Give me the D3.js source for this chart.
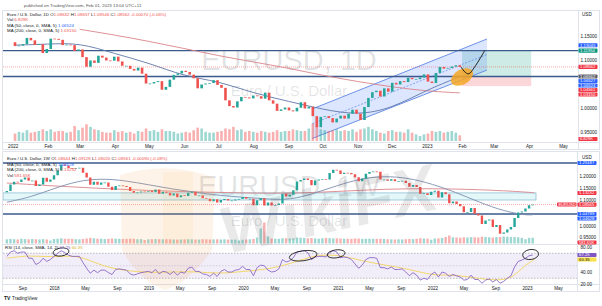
<!DOCTYPE html>
<html>
<head>
<meta charset="utf-8">
<script src="https://cdn.jsdelivr.net/npm/d3@7/dist/d3.min.js"></script>
<style>
  body { margin: 0; background: #fff; }
  svg { display: block; font-family: "Liberation Sans", Arial, sans-serif; }
</style>
</head>
<body>
<div id="chart"></div>
<script>
// ---------- daily chart (top) ----------
// one candle per 3.5 days starting at topStart
const topStart = "2022-01-03";
const topFirstOpen = 1.1370;
const topCloses = [
  1.1290,1.1300,1.1330,1.1460,1.1410,1.1315,1.1330,1.1145,1.1230,
  1.1445,1.1440,1.1420,1.1310,1.1320,1.1310,1.1190,1.1220,
  1.1060,1.0860,1.0990,1.0940,1.1090,1.1050,1.0990,1.0985,1.1070,
  1.0970,1.0880,1.0880,1.0815,1.0780,1.0840,1.0715,1.0510,
  1.0510,1.0540,1.0560,1.0380,1.0440,1.0590,1.0690,1.0720,
  1.0775,1.0750,1.0695,1.0620,1.0410,1.0490,1.0510,1.0520,1.0580,1.0480,
  1.0420,1.0160,1.0040,1.0010,1.0140,1.0230,1.0220,1.0200,
  1.0260,1.0245,1.0195,1.0320,1.0160,1.0090,0.9940,0.9970,1.0010,
  0.9950,0.9930,1.0005,1.0120,0.9990,1.0025,0.9830,0.9600,0.9815,
  0.9830,0.9790,0.9700,0.9780,0.9840,0.9780,0.9880,0.9965,0.9880,
  0.9750,1.0020,1.0210,1.0330,1.0360,1.0240,1.0410,1.0340,
  1.0525,1.0490,1.0560,1.0540,1.0630,1.0600,1.0600,1.0635,1.0700,
  1.0550,1.0520,1.0730,1.0855,1.0820,1.0835,1.0865,1.0890,1.0856
];
const topVolumes = [
  9,11,10,13,10,11,12,14,12,
  14,11,12,12,10,11,18,13,
  16,20,17,14,13,11,10,10,13,
  11,12,10,11,9,12,11,15,
  12,13,11,14,12,12,11,9,
  10,11,10,13,16,15,11,10,10,11,
  12,15,14,17,13,14,11,12,
  11,10,12,11,10,11,13,11,12,
  12,14,13,12,12,15,21,18,14,
  13,12,13,14,12,13,12,14,11,
  14,15,17,14,12,10,9,12,
  13,11,11,10,14,10,8,6,8,
  9,12,11,12,10,11,12,10,6.829
];
const topMa50Dates = ["2022-01-03","2022-02-01","2022-03-01","2022-04-01","2022-05-01","2022-06-01","2022-07-01",
  "2022-08-01","2022-09-01","2022-10-01","2022-11-01","2022-12-01","2023-01-01","2023-01-30"];
const topMa50 = [1.131,1.133,1.136,1.113,1.094,1.066,1.056,1.031,1.014,0.997,0.985,0.999,1.038,1.065];
const topMa200Dates = ["2022-03-01","2022-04-01","2022-05-01","2022-06-01","2022-07-01","2022-08-01",
  "2022-09-01","2022-10-01","2022-11-01","2022-12-01","2023-01-01","2023-01-30"];
const topMa200 = [1.164,1.152,1.139,1.124,1.109,1.096,1.083,1.068,1.055,1.044,1.035,1.0315];

const topLevels = [1.1195, 1.0656];
const channelDates = ["2022-09-22", "2023-02-23"];
const channelUpper = [0.9980, 1.1438];
const channelLower = [0.9365, 1.0790];
const positionDates = ["2023-02-01", "2023-04-03"];
const positionTarget = 1.1195, positionEntry = 1.0656, positionStop = 1.0456;
const markerDate = "2023-02-01", markerPrice = 1.0646;
const projDates = ["2023-01-31","2023-02-04","2023-02-07","2023-02-12","2023-02-21"];
const projPrices = [1.0856,1.0740,1.0712,1.0850,1.1195];
const topTicks = [0.95, 1.0, 1.10, 1.15];
const topTags = [
  [1.1306, "1.13045", "#2962ff"],
  [1.1195, "1.11954", "#089981"],
  [1.0856, "1.08562", "#f23645"],
  [1.0656, "1.06562", "#5d606b"],
  [1.0653, "1.06527", "#2962ff"],
  [1.0652, "1.06524", "#2962ff"],
  [1.0456, "1.04561", "#f23645"],
  [1.0315, "1.03150", "#f23645"]
];

// ---------- weekly chart (bottom) ----------
// one candle per 14 days starting at botStart
const botStart = "2017-07-03";
const botFirstOpen = 1.1350;
const botCloses = [
  1.1400,1.1660,1.1770,1.1760,1.1860,1.1940,1.1810,1.1820,1.1600,1.1660,1.1930,1.1770,1.1860,
  1.2030,1.2220,1.2460,1.2410,1.2320,1.2290,1.2320,1.2330,1.2130,1.1940,1.1650,1.1770,1.1650,
  1.1740,1.1740,1.1570,1.1440,1.1600,1.1620,1.1600,1.1560,1.1400,1.1330,1.1340,1.1380,1.1370,
  1.1400,1.1360,1.1460,1.1290,1.1370,1.1330,1.1220,1.1300,1.1150,1.1230,1.1200,1.1330,1.1370,
  1.1220,1.1220,1.1110,1.1090,1.0990,1.1070,1.0940,1.1040,1.1080,1.1020,1.1020,1.1060,1.1080,
  1.1160,1.1090,1.1090,1.0830,1.1030,1.1110,1.0820,1.0940,1.0820,1.0840,1.0900,1.1290,1.1180,
  1.1250,1.1430,1.1780,1.1840,1.1900,1.1840,1.1630,1.1820,1.1860,1.1870,1.1860,1.2120,1.2250,
  1.2220,1.2080,1.2130,1.2120,1.2070,1.1950,1.1790,1.1900,1.2090,1.2160,1.2180,1.2170,1.1860,
  1.1860,1.1810,1.1870,1.1790,1.1800,1.1810,1.1720,1.1570,1.1640,1.1560,1.1290,1.1310,1.1240,1.1370,
  1.1410,1.1140,1.1350,1.1270,1.0910,1.0980,1.0880,1.0790,1.0550,1.0560,1.0720,1.0490,1.0420,
  1.0080,1.0220,1.0260,0.9960,1.0040,0.9690,0.9740,0.9860,0.9960,1.0320,1.0540,1.0580,1.0700,
  1.0830,1.0856
];
const botVolumes = [
  420,450,430,400,470,440,420,450,430,410,440,400,300,
  450,480,520,470,480,460,430,420,450,500,560,520,480,470,440,460,500,480,470,450,460,480,470,430,440,350,
  420,430,440,430,420,430,420,400,390,400,410,430,420,400,390,430,420,400,410,420,400,420,390,380,390,300,
  380,400,420,450,600,1500,2100,700,500,480,470,520,530,500,520,600,580,560,520,550,500,480,520,560,540,500,
  520,500,480,470,460,500,490,460,470,480,470,460,470,450,430,420,400,420,410,430,450,440,470,520,500,480,380,
  500,520,560,650,800,620,600,580,620,600,640,620,600,680,650,620,600,640,650,700,680,640,650,620,560,420,
  560,581.65
];
const botRsi = [
  65,72,74,70,72,72,62,62,52,55,62,57,60,
  65,70,74,71,67,65,65,65,55,46,38,43,39,43,43,39,36,44,45,44,43,37,35,37,39,40,
  41,39,44,37,41,40,36,41,35,40,38,46,48,41,41,37,36,33,38,33,41,44,40,40,43,44,
  49,44,44,34,47,51,50,43,40,41,45,60,56,58,63,72,73,74,71,60,64,65,65,64,71,74,
  72,63,64,63,60,53,46,51,60,63,63,62,47,47,45,48,44,44,45,40,34,39,35,27,30,28,36,
  40,32,40,38,33,36,34,32,27,28,35,28,28,22,27,29,24,28,22,25,30,34,48,57,59,62,
  66,67.25
];
const botMaDates = ["2017-07-03","2017-10-01","2018-01-01","2018-04-01","2018-07-01","2018-10-01","2019-01-01",
  "2019-04-01","2019-07-01","2019-10-01","2020-01-01","2020-04-01","2020-07-01","2020-10-01","2021-01-01",
  "2021-04-01","2021-07-01","2021-10-01","2022-01-01","2022-04-01","2022-07-01","2022-10-01","2023-01-01","2023-01-30"];
const botMa50 = [1.095,1.115,1.150,1.180,1.190,1.182,1.165,1.148,1.135,1.122,1.115,1.108,1.104,1.130,1.163,
  1.190,1.200,1.192,1.168,1.135,1.095,1.060,1.042,1.0463];
const botMa200Dates = ["2017-07-03","2018-01-01","2018-07-01","2019-01-01","2019-07-01","2020-01-01","2020-07-01",
  "2021-01-01","2021-07-01","2022-01-01","2022-07-01","2023-01-01","2023-01-30"];
const botMa200 = [1.172,1.160,1.150,1.142,1.136,1.132,1.130,1.138,1.148,1.150,1.146,1.136,1.1323];
const rsiMaDates = ["2017-07-03","2017-10-01","2018-01-01","2018-04-01","2018-07-01","2018-10-01","2019-01-01",
  "2019-04-01","2019-07-01","2019-10-01","2020-01-01","2020-04-01","2020-07-01","2020-10-01","2021-01-01",
  "2021-04-01","2021-07-01","2021-10-01","2022-01-01","2022-04-01","2022-07-01","2022-10-01","2022-11-15",
  "2022-12-15","2023-01-30"];
const rsiMa = [62,67,63,68,50,42,39,40,41,37,41,44,53,67,68,58,51,45,34,36,29,26,34,48,60.35];
const botLevels = [1.2520, 1.0480];
const botBand = [1.1040, 1.1323];
const botTicks = [0.95, 1.0, 1.10, 1.15, 1.20];
const rsiTicks = [20, 40, 80];
const rsiCircleDates = ["2018-01-28","2020-08-20","2020-12-25","2023-01-15"];
const rsiCircleValues = [72, 66, 69, 68];
const botTags = [
  [1.2520, "1.25187", "#2962ff"],
  [1.1323, "1.13232", "#f23645"],
  [1.0856, "1.08565", "#f23645"],
  [1.0480, "1.04799", "#2962ff"],
  [1.0463, "1.04628", "#2962ff"]
];
const rsiTags = [[67.25, "67.25", "#7e57c2", "#fff"], [60.35, "60.35", "#f7e04a", "#131722"]];

// ---------- setup ----------
const parse = d3.utcParse("%Y-%m-%d");
const UP = "#26a69a", DOWN = "#ef5350", TXT = "#131722";
const svg = d3.select("#chart").append("svg").attr("width", 602).attr("height", 306);
const defs = svg.append("defs");
function clip(id, x, y, w, h) {
  defs.append("clipPath").attr("id", id).append("rect").attr("x", x).attr("y", y).attr("width", w).attr("height", h);
}
clip("cTop", 3, 10.5, 575, 131.5);
clip("cBot", 3, 151.5, 574, 92.5);
clip("cRsi", 3, 244.5, 574, 39.5);

function candles(start, stepH, firstOpen, closes, vols) {
  const t0 = parse(start);
  return closes.map((c, i) => ({
    date: d3.utcHour.offset(t0, i * stepH),
    open: i ? closes[i - 1] : firstOpen,
    close: c,
    vol: vols[i]
  }));
}
function legendRow(x, y, parts) {
  const t = svg.append("text").attr("x", x).attr("y", y).attr("font-size", 4.4).attr("dy", "0.35em");
  parts.forEach(([s, c]) => t.append("tspan").attr("fill", c).text(s));
}
// price tags on the axis, pushed down when they would overlap
function tags(list, yScale, h, x) {
  const items = list.map(d => ({ y: yScale(d[0]), text: d[1], bg: d[2], fg: d[3] || "#fff" }))
    .sort((a, b) => a.y - b.y);
  let prev = -1e9;
  items.forEach(d => { d.y = Math.max(d.y, prev + h); prev = d.y; });
  items.forEach(d => {
    svg.append("rect").attr("x", x).attr("y", d.y - h / 2 + 0.2).attr("width", 19).attr("height", h - 0.4)
      .attr("rx", 0.8).attr("fill", d.bg);
    svg.append("text").attr("x", x + 1.6).attr("y", d.y).attr("dy", "0.35em").attr("font-size", 4.2)
      .attr("fill", d.fg).text(d.text);
  });
  return items.map(d => d.y);
}
function tag1(x, y, w, text, bg) {
  svg.append("rect").attr("x", x).attr("y", y - 2).attr("width", w).attr("height", 4).attr("rx", 0.8).attr("fill", bg);
  svg.append("text").attr("x", x + 1.4).attr("y", y).attr("dy", "0.35em").attr("font-size", 4.1).attr("fill", "#fff").text(text);
}
function axisStyle(g) {
  g.select(".domain").remove();
  g.attr("font-size", 4.6).attr("font-family", null);
  g.selectAll("text").attr("fill", TXT);
}
// lift a tick label that sits just above a tag so both stay readable
function lift(axisG, yScale, tagYs) {
  axisG.selectAll(".tick").each(function (v) {
    const ty = yScale(v);
    tagYs.forEach(y => {
      if (ty <= y && y - ty < 5) d3.select(this).select("text").attr("y", (y - 5) - ty);
    });
  });
}

// ---------- frames ----------
svg.append("text").attr("x", 24).attr("y", 5).attr("dy", "0.35em").attr("font-size", 4.4).attr("fill", "#555")
  .text("published on TradingView.com, Feb 01, 2023 13:04 UTC+11");
svg.append("rect").attr("x", 2.5).attr("y", 10.5).attr("width", 597).attr("height", 139).attr("fill", "none").attr("stroke", "#e0e3eb");
svg.append("line").attr("x1", 578.5).attr("x2", 578.5).attr("y1", 10.5).attr("y2", 149.5).attr("stroke", "#e0e3eb");
svg.append("line").attr("x1", 2.5).attr("x2", 599.5).attr("y1", 142.5).attr("y2", 142.5).attr("stroke", "#e0e3eb");
svg.append("rect").attr("x", 2.5).attr("y", 151.5).attr("width", 597).attr("height", 140).attr("fill", "none").attr("stroke", "#e0e3eb");
svg.append("line").attr("x1", 577.5).attr("x2", 577.5).attr("y1", 151.5).attr("y2", 291.5).attr("stroke", "#e0e3eb");
svg.append("line").attr("x1", 2.5).attr("x2", 599.5).attr("y1", 244.5).attr("y2", 244.5).attr("stroke", "#e0e3eb");
svg.append("line").attr("x1", 2.5).attr("x2", 599.5).attr("y1", 284.5).attr("y2", 284.5).attr("stroke", "#e0e3eb");

// ---------- top chart ----------
const xTop = d3.scaleUtc().domain([parse("2022-01-03"), parse("2023-05-01")]).range([15, 563]);
const yTop = d3.scaleLinear().domain([0.95, 1.15]).range([132, 36]);
const vTop = d3.scaleLinear().domain([0, 24]).range([141, 121]);
const topData = candles(topStart, 84, topFirstOpen, topCloses, topVolumes);
const gT = svg.append("g").attr("clip-path", "url(#cTop)");

gT.append("text").attr("x", 289).attr("y", 70).attr("text-anchor", "middle").attr("font-size", 29)
  .attr("fill", "#131722").attr("fill-opacity", 0.13).text("EURUSD, 1D");
gT.append("text").attr("x", 289).attr("y", 96).attr("text-anchor", "middle").attr("font-size", 15)
  .attr("fill", "#131722").attr("fill-opacity", 0.13).text("Euro / U.S. Dollar");

// position tool
const px0 = xTop(parse(positionDates[0])), px1 = xTop(parse(positionDates[1]));
gT.append("rect").attr("x", px0).attr("width", px1 - px0).attr("y", yTop(positionTarget))
  .attr("height", yTop(positionEntry) - yTop(positionTarget)).attr("fill", "#089981").attr("fill-opacity", 0.2);
gT.append("rect").attr("x", px0).attr("width", px1 - px0).attr("y", yTop(positionEntry))
  .attr("height", yTop(positionStop) - yTop(positionEntry)).attr("fill", "#f23645").attr("fill-opacity", 0.2);

// channel
const cd = channelDates.map(parse);
const chPts = [[cd[0], channelUpper[0]], [cd[1], channelUpper[1]], [cd[1], channelLower[1]], [cd[0], channelLower[0]]];
gT.append("path").attr("d", "M" + chPts.map(p => [xTop(p[0]), yTop(p[1])].join(",")).join("L") + "Z")
  .attr("fill", "#2962ff").attr("fill-opacity", 0.16);
[channelUpper, channelLower].forEach(v => gT.append("line")
  .attr("x1", xTop(cd[0])).attr("x2", xTop(cd[1])).attr("y1", yTop(v[0])).attr("y2", yTop(v[1]))
  .attr("stroke", "#5b86e5").attr("stroke-width", 0.9));
gT.append("line").attr("x1", xTop(cd[0])).attr("x2", xTop(cd[1]))
  .attr("y1", yTop((channelUpper[0] + channelLower[0]) / 2)).attr("y2", yTop((channelUpper[1] + channelLower[1]) / 2))
  .attr("stroke", "#5b86e5").attr("stroke-width", 0.7).attr("stroke-dasharray", "2,1.5");

// volume
const bwT = 2.6;
gT.selectAll(".vt").data(topData).join("rect")
  .attr("x", d => xTop(d.date) - bwT / 2).attr("width", bwT)
  .attr("y", d => vTop(d.vol)).attr("height", d => vTop(0) - vTop(d.vol))
  .attr("fill", d => d.close >= d.open ? UP : DOWN).attr("fill-opacity", 0.45);

// levels
topLevels.forEach(p => gT.append("line").attr("x1", 3).attr("x2", 578).attr("y1", yTop(p)).attr("y2", yTop(p))
  .attr("stroke", "#3a5a8c").attr("stroke-width", 1.3));
gT.append("line").attr("x1", 3).attr("x2", 578).attr("y1", yTop(topCloses[topCloses.length - 1]))
  .attr("y2", yTop(topCloses[topCloses.length - 1])).attr("stroke", DOWN).attr("stroke-width", 0.5).attr("stroke-dasharray", "1,1");

// moving averages
const lineT = d3.line().curve(d3.curveBasis).x(d => xTop(d[0])).y(d => yTop(d[1]));
gT.append("path").attr("d", lineT(topMa200Dates.map((d, i) => [parse(d), topMa200[i]])))
  .attr("fill", "none").attr("stroke", "#d9858a").attr("stroke-width", 0.9);
gT.append("path").attr("d", lineT(topMa50Dates.map((d, i) => [parse(d), topMa50[i]])))
  .attr("fill", "none").attr("stroke", "#5f77a8").attr("stroke-width", 0.9);

// candles
gT.selectAll(".ct").data(topData).join("rect")
  .attr("x", d => xTop(d.date) - bwT / 2).attr("width", bwT)
  .attr("y", d => yTop(Math.max(d.open, d.close)))
  .attr("height", d => Math.max(0.7, Math.abs(yTop(d.open) - yTop(d.close))))
  .attr("fill", d => d.close >= d.open ? UP : DOWN);

// annotation: marker and projection
gT.append("ellipse").attr("transform", `translate(${xTop(parse(markerDate))},${yTop(markerPrice)}) rotate(-30)`)
  .attr("rx", 12).attr("ry", 7.5).attr("fill", "#f5a623").attr("fill-opacity", 0.85);
gT.append("path").attr("d", d3.line().curve(d3.curveCatmullRom).x(d => xTop(d[0])).y(d => yTop(d[1]))(
  projDates.map((d, i) => [parse(d), projPrices[i]]))).attr("fill", "none").attr("stroke", "#111").attr("stroke-width", 0.9);

// axes
svg.append("g").attr("transform", "translate(0,142.5)")
  .call(d3.axisBottom(xTop).tickValues(d3.utcMonth.range(parse("2022-01-01"), parse("2023-05-02")))
    .tickFormat(d => d.getUTCMonth() === 0 ? d3.utcFormat("%Y")(d) : d3.utcFormat("%b")(d)).tickSize(0).tickPadding(2))
  .call(axisStyle);
const yAxT = svg.append("g").attr("transform", "translate(579,0)")
  .call(d3.axisRight(yTop).tickValues(topTicks).tickFormat(d3.format(".5f")).tickSize(0).tickPadding(1.5))
  .call(axisStyle);
svg.append("text").attr("x", 582).attr("y", 14).attr("dy", "0.35em").attr("font-size", 4.6).attr("fill", TXT).text("USD");
lift(yAxT, yTop, tags(topTags, yTop, 4.5, 578.5));
tag1(578.5, 139, 19, "6.829K", "#f23645");

legendRow(7, 14, [["Euro / U.S. Dollar, 1D", TXT], ["            O", TXT], ["1.08632", DOWN], [" H", TXT], ["1.08657", DOWN],
  [" L", TXT], ["1.08546", DOWN], [" C", TXT], ["1.08562", DOWN], [" -0.00070 (-0.06%)", DOWN]]);
legendRow(7, 19.5, [["Vol ", TXT], ["6.829K", DOWN]]);
legendRow(7, 25, [["MA (50, close, 0, SMA, 5) ", TXT], ["1.06524", "#2962ff"]]);
legendRow(7, 30.5, [["MA (200, close, 0, SMA, 5) ", TXT], ["1.03150", DOWN]]);

// ---------- bottom chart ----------
const xBot = d3.scaleUtc().domain([parse("2018-01-01"), parse("2023-01-01")]).range([54, 527]);
const yBot = d3.scaleLinear().domain([0.95, 1.20]).range([238.5, 176]);
const vBot = d3.scaleLinear().domain([0, 2400]).range([243.5, 219.5]);
const yRsi = d3.scaleLinear().domain([20, 80]).range([284.5, 247]);
const botData = candles(botStart, 336, botFirstOpen, botCloses, botVolumes);
const gB = svg.append("g").attr("clip-path", "url(#cBot)");

// watermarks
gB.append("text").attr("x", 289).attr("y", 196).attr("text-anchor", "middle").attr("font-size", 29)
  .attr("fill", "#131722").attr("fill-opacity", 0.13).text("EURUSD, 1W");
gB.append("text").attr("x", 289).attr("y", 226).attr("text-anchor", "middle").attr("font-size", 15)
  .attr("fill", "#131722").attr("fill-opacity", 0.13).text("Euro / U.S. Dollar");

gB.append("rect").attr("x", 163).attr("y", 172).attr("width", 30).attr("height", 72).attr("fill", "#f5b050").attr("fill-opacity", 0.08);
gB.append("rect").attr("x", 3).attr("y", yBot(botBand[1])).attr("width", 533).attr("height", yBot(botBand[0]) - yBot(botBand[1]))
  .attr("fill", "#b2ebf2").attr("fill-opacity", 0.35).attr("stroke", "#6fa9c6").attr("stroke-width", 0.6);

const bwB = 2.4;
gB.selectAll(".vb").data(botData).join("rect")
  .attr("x", d => xBot(d.date) - bwB / 2).attr("width", bwB)
  .attr("y", d => vBot(d.vol)).attr("height", d => vBot(0) - vBot(d.vol))
  .attr("fill", d => d.close >= d.open ? UP : DOWN).attr("fill-opacity", 0.45);

botLevels.forEach(p => gB.append("line").attr("x1", 3).attr("x2", 577).attr("y1", yBot(p)).attr("y2", yBot(p))
  .attr("stroke", "#3a5a8c").attr("stroke-width", 1.3));
gB.append("line").attr("x1", 3).attr("x2", 577).attr("y1", yBot(1.0856)).attr("y2", yBot(1.0856))
  .attr("stroke", DOWN).attr("stroke-width", 0.5).attr("stroke-dasharray", "1,1");

const lineB = d3.line().curve(d3.curveBasis).x(d => xBot(d[0])).y(d => yBot(d[1]));
gB.append("path").attr("d", lineB(botMa200Dates.map((d, i) => [parse(d), botMa200[i]])))
  .attr("fill", "none").attr("stroke", "#d9858a").attr("stroke-width", 0.9);
gB.append("path").attr("d", lineB(botMaDates.map((d, i) => [parse(d), botMa50[i]])))
  .attr("fill", "none").attr("stroke", "#7f8fb0").attr("stroke-width", 0.9);

gB.selectAll(".cb").data(botData).join("rect")
  .attr("x", d => xBot(d.date) - bwB / 2).attr("width", bwB)
  .attr("y", d => yBot(Math.max(d.open, d.close)))
  .attr("height", d => Math.max(0.7, Math.abs(yBot(d.open) - yBot(d.close))))
  .attr("fill", d => d.close >= d.open ? UP : DOWN);

// WikiFX watermark over the weekly chart
svg.append("path").attr("d", "M120,175 Q168,160 215,178 L212,250 Q190,282 165,290 Q138,280 122,250 Z")
  .attr("fill", "#f5a040").attr("fill-opacity", 0.12);
svg.append("text").attr("transform", "translate(330,232) rotate(-12) skewX(-8)").attr("text-anchor", "middle")
  .attr("font-size", 66).attr("font-weight", "bold").attr("fill", "#4a4a4a").attr("fill-opacity", 0.12).text("WikiFX");

// RSI pane
const gR = svg.append("g").attr("clip-path", "url(#cRsi)");
gR.append("rect").attr("x", 3).attr("width", 574).attr("y", yRsi(70)).attr("height", yRsi(30) - yRsi(70))
  .attr("fill", "#7e57c2").attr("fill-opacity", 0.1);
[70, 50, 30].forEach(v => gR.append("line").attr("x1", 3).attr("x2", 577).attr("y1", yRsi(v)).attr("y2", yRsi(v))
  .attr("stroke", "#787b86").attr("stroke-width", 0.5).attr("stroke-dasharray", "1.5,1.5").attr("stroke-opacity", v === 50 ? 0.5 : 1));
gR.append("path").attr("d", d3.line().curve(d3.curveBasis).x(d => xBot(d[0])).y(d => yRsi(d[1]))(
  rsiMaDates.map((d, i) => [parse(d), rsiMa[i]]))).attr("fill", "none").attr("stroke", "#f2d45c").attr("stroke-width", 0.9);
gR.append("path").attr("d", d3.line().x(d => xBot(d.date)).y((d, i) => yRsi(botRsi[i]))(botData))
  .attr("fill", "none").attr("stroke", "#7e57c2").attr("stroke-width", 0.8);
const circleR = [[8, 4], [14, 5], [9, 4], [8, 5]];
rsiCircleDates.forEach((d, i) => svg.append("ellipse")
  .attr("transform", `translate(${xBot(parse(d))},${yRsi(rsiCircleValues[i])}) rotate(-8)`)
  .attr("rx", circleR[i][0]).attr("ry", circleR[i][1]).attr("fill", "none").attr("stroke", "#111").attr("stroke-width", 0.8));

// axes
svg.append("g").attr("transform", "translate(0,284.5)")
  .call(d3.axisBottom(xBot).tickValues(d3.utcMonth.every(4).range(parse("2017-09-01"), parse("2023-05-02")))
    .tickFormat(d => d.getUTCMonth() === 0 ? d3.utcFormat("%Y")(d) : d3.utcFormat("%b")(d)).tickSize(0).tickPadding(2))
  .call(axisStyle);
const yAxB = svg.append("g").attr("transform", "translate(578,0)")
  .call(d3.axisRight(yBot).tickValues(botTicks).tickFormat(d3.format(".5f")).tickSize(0).tickPadding(1.5))
  .call(axisStyle);
const yAxR = svg.append("g").attr("transform", "translate(578,0)")
  .call(d3.axisRight(yRsi).tickValues(rsiTicks).tickFormat(d3.format(".2f")).tickSize(0).tickPadding(2.5))
  .call(axisStyle);
svg.append("text").attr("x", 582).attr("y", 157).attr("dy", "0.35em").attr("font-size", 4.6).attr("fill", TXT).text("USD");
const volTagY = 242.4;
lift(yAxB, yBot, tags(botTags, yBot, 4.5, 577.5).concat([volTagY]));
lift(yAxR, yRsi, tags(rsiTags, yRsi, 4.5, 577.5));
tag1(557, yBot(1.0856), 19.5, "EURUSD", "#f23645");
tag1(577.5, volTagY, 19, "581.65K", "#f23645");

legendRow(7, 158, [["Euro / U.S. Dollar, 1W", TXT], ["             O", TXT], ["1.08644", DOWN], [" H", TXT], ["1.09128", DOWN],
  [" L", TXT], ["1.08020", DOWN], [" C", TXT], ["1.08561", DOWN], [" -0.00090 (-0.08%)", DOWN]]);
legendRow(7, 164, [["MA (50, close, 0, SMA, 5) ", TXT], ["1.04628", "#2962ff"]]);
legendRow(7, 169.5, [["MA (200, close, 0, SMA, 5) ", TXT], ["1.13232", DOWN]]);
legendRow(7, 175, [["Vol ", TXT], ["581.65K", DOWN]]);
legendRow(5, 247.5, [["RSI (14, close, SMA, 14, 2) ", TXT], ["67.25", "#7e57c2"], [" 60.35", "#d4b21f"]]);

svg.append("text").attr("x", 4).attr("y", 298.5).attr("dy", "0.35em").attr("font-size", 5).attr("font-weight", "bold")
  .attr("fill", TXT).text("TV");
svg.append("text").attr("x", 12).attr("y", 298.5).attr("dy", "0.35em").attr("font-size", 4.6).attr("fill", TXT).text("TradingView");
</script>
</body>
</html>
